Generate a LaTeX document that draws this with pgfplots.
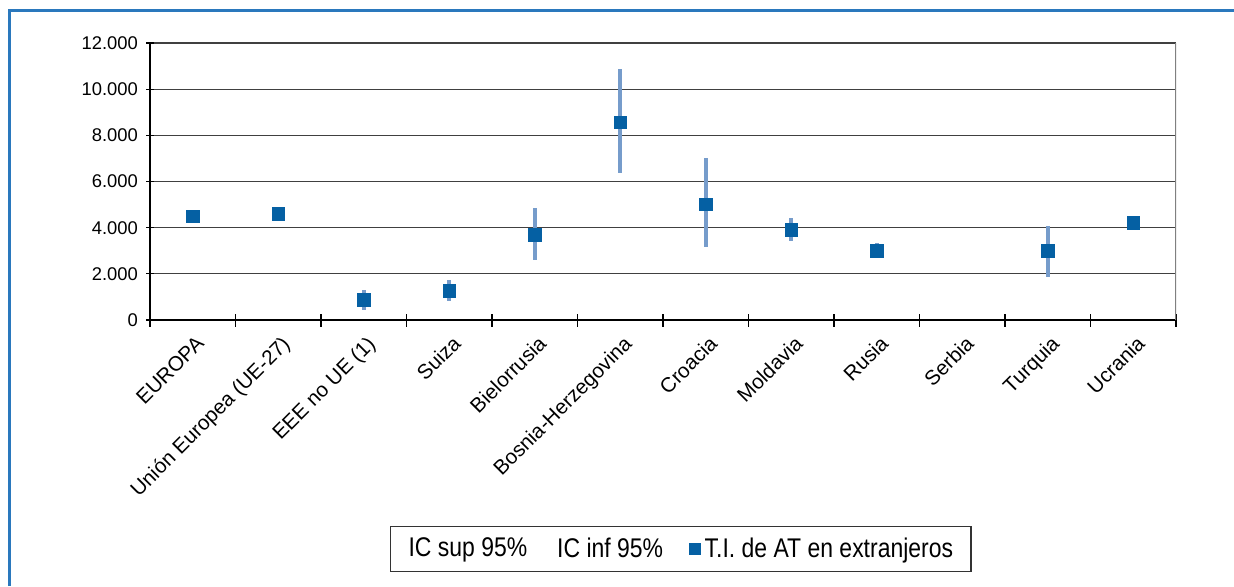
\documentclass[border=0pt]{standalone}
\usepackage{fontspec}
\setmainfont{Liberation Sans}
\newfontfamily\legfont[FakeStretch=0.85]{Liberation Sans}
\usepackage{pgfplots}
\pgfplotsset{compat=1.18}
\definecolor{markc}{HTML}{0560A3}
\definecolor{errc}{HTML}{769CCB}
\definecolor{framec}{HTML}{2A78BD}
\begin{document}
\begin{tikzpicture}
\path[use as bounding box] (0,0) rectangle (617pt,293pt);
\draw[framec, line width=1.5pt] (4.5pt,0pt) -- (4.5pt,288pt) -- (617pt,288pt);
\begin{axis}[
  at={(75pt,133pt)}, anchor=south west, scale only axis,
  width=513pt, height=138.5pt,
  xmin=-0.5, xmax=11.5, ymin=0, ymax=12000,
  axis lines*=left,
  axis line style={black, line width=0.8pt},
  xtick={0,...,11},
  xticklabels={EUROPA, Unión Europea (UE-27), EEE no UE (1), Suiza, Bielorrusia, Bosnia-Herzegovina, Croacia, Moldavia, Rusia, Serbia, Turquia, Ucrania},
  major x tick style={draw=none},
  minor xtick={-0.5,0.5,...,11.5},
  minor x tick style={black, line width=0.6pt},
  minor tick length=6.5pt,
  tick align=center,
  ytick={0,2000,...,12000},
  major tick length=4pt,
  major y tick style={black, line width=0.6pt},
  ymajorgrids,
  major grid style={black!75, line width=0.6pt},
  scaled y ticks=false,
  /pgf/number format/1000 sep={.},
  /pgf/number format/assume math mode=true,
  yticklabel style={font=\fontsize{9.2}{10}\selectfont, xshift=-0.5pt},
  xticklabel style={font=\fontsize{10.3}{12}\selectfont, rotate=45, anchor=north east, xshift=0.5pt, yshift=-1pt},
  legend style={at={(0.2339,-0.7437)}, anchor=north west, legend columns=3,
    draw=black!80, line width=0.6pt, font=\legfont\fontsize{13.5}{15}\selectfont,
    inner xsep=7pt, inner ysep=3.5pt,
    /tikz/every even column/.append style={column sep=11pt}},
]
\draw[black!50, line width=0.8pt] (rel axis cs:1,0) -- (rel axis cs:1,1);
\addlegendimage{empty legend}
\addlegendentry{IC sup 95\%}
\addlegendimage{empty legend}
\addlegendentry{IC inf 95\%}
\addplot[only marks, mark=square*, mark size=3.1pt, mark options={fill=markc, draw=markc},
  legend image code/.code={\draw[markc, fill=markc] (0pt,-2.6pt) rectangle (5.2pt,2.6pt);},
  error bars/.cd, y dir=both, y explicit, error mark=none,
  error bar style={errc, line width=2pt}]
coordinates {
(0,4500)
(1,4600)
(2,870) += (0,430) -= (0,440)
(3,1260) += (0,470) -= (0,420)
(4,3680) += (0,1160) -= (0,1080)
(5,8560) += (0,2300) -= (0,2200)
(6,5010) += (0,1990) -= (0,1830)
(7,3900) += (0,500) -= (0,470)
(8,3000) += (0,320) -= (0,330)
(10,3000) += (0,1070) -= (0,1150)
(11,4210)
};
\addlegendentry{T.I. de AT en extranjeros}
\end{axis}
\end{tikzpicture}
\end{document}
